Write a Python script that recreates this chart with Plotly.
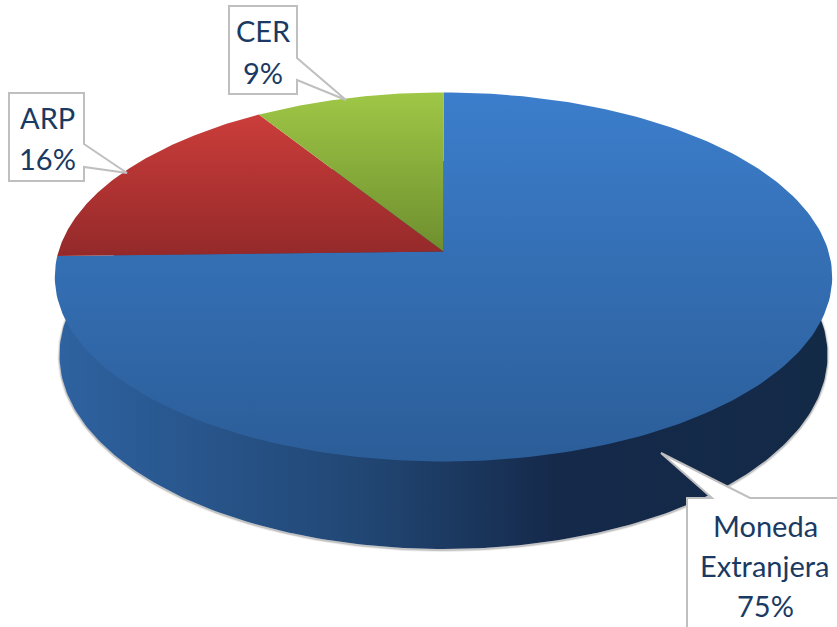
import numpy as np
import plotly.graph_objects as go

categories = ["Moneda Extranjera", "ARP", "CER"]
values = [74.6, 16.4, 9.0]  # shares, labels round them

# first colour is the lower end of the slice, second the upper end
top_colors = [
    ["#2B5D98", "#3C7ECC"],
    ["#94292A", "#CB3D3A"],
    ["#6E8E2E", "#9FC746"],
]
wall_stops = [[0, "#2E62A0"], [0.4, "#214673"], [0.65, "#15294A"], [1, "#132A47"]]

# label lines per category, in the order of the categories
label_lines = {
    "Moneda Extranjera": (765, [525, 565], ["Moneda", "Extranjera"], 605),
    "ARP": (47, [117], ["ARP"], 158),
    "CER": (263, [30], ["CER"], 72),
}
text_color = "#1A3A63"
border_color = "#BFBFBF"

# callout boxes
callouts = [
    "M229,6 L297,6 L297,58 L346,100 L297,80 L297,94 L229,94 Z",
    "M9,93 L84,93 L84,144 L127,173 L84,167 L84,181 L9,181 Z",
    "M687,630 L687,498 L712,498 L661,453 L750,498 L840,498 L840,630 Z",
]

# perspective of the pie disc: apex, radius, depth foreshortening
apex_x, apex_y = 443.5, 251.5
top_r, top_a, top_k = 385, 181, 0.138
base_r, base_a, base_k = 384, 194, 0.0
base_y = 355


def project(theta, y0, r, a, k):
    d = 1 + k * np.cos(theta)
    return apex_x + r * np.sin(theta) / d, y0 - a * np.cos(theta) / d


fig = go.Figure()

# side wall, with a soft shadow under its rim
t = np.linspace(0, 2 * np.pi, 361)
bx, by = project(t, base_y, base_r, base_a, base_k)
for width, alpha in [(4, 0.1), (2, 0.25)]:
    fig.add_trace(go.Scatter(x=bx, y=by + 1, mode="lines", hoverinfo="skip",
                             line=dict(color=f"rgba(70,70,70,{alpha})", width=width)))
fig.add_trace(go.Scatter(
    x=bx, y=by, mode="lines", fill="toself", line=dict(width=0), hoverinfo="skip",
    fillgradient=dict(type="horizontal", colorscale=wall_stops),
))

# top of the disc, clockwise from twelve o'clock
start = 0.0
total = sum(values)
for name, value, cols in zip(categories, values, top_colors):
    end = start + value / total * 2 * np.pi
    arc = np.linspace(start, end, 200)
    ax, ay = project(arc, apex_y, top_r, top_a, top_k)
    fig.add_trace(go.Scatter(
        x=np.r_[apex_x, ax, apex_x], y=np.r_[apex_y, ay, apex_y],
        mode="lines", fill="toself", line=dict(width=0), name=name,
        hovertemplate=f"{name}: {round(value)}%<extra></extra>",
        fillgradient=dict(type="vertical", colorscale=[[0, cols[0]], [1, cols[1]]]),
    ))
    start = end

for path in callouts:
    fig.add_shape(type="path", path=path, fillcolor="white", xref="x", yref="y",
                  line=dict(color=border_color, width=2))

for name, value in zip(categories, values):
    x, ys, words, pct_y = label_lines[name]
    for text, y in zip(words + [f"{round(value)}%"], ys + [pct_y]):
        fig.add_annotation(x=x, y=y, text=text, showarrow=False, xanchor="center", yanchor="middle",
                           font=dict(family="Lato", size=29, color=text_color))

fig.update_layout(
    width=837, height=627, margin=dict(l=0, r=0, t=0, b=0),
    paper_bgcolor="white", plot_bgcolor="white", showlegend=False,
    xaxis=dict(range=[0, 837], visible=False, fixedrange=True),
    yaxis=dict(range=[627, 0], visible=False, fixedrange=True),
)

fig.write_html("out.html", config=dict(displayModeBar=False),
               post_script="document.body.style.margin='0';")
